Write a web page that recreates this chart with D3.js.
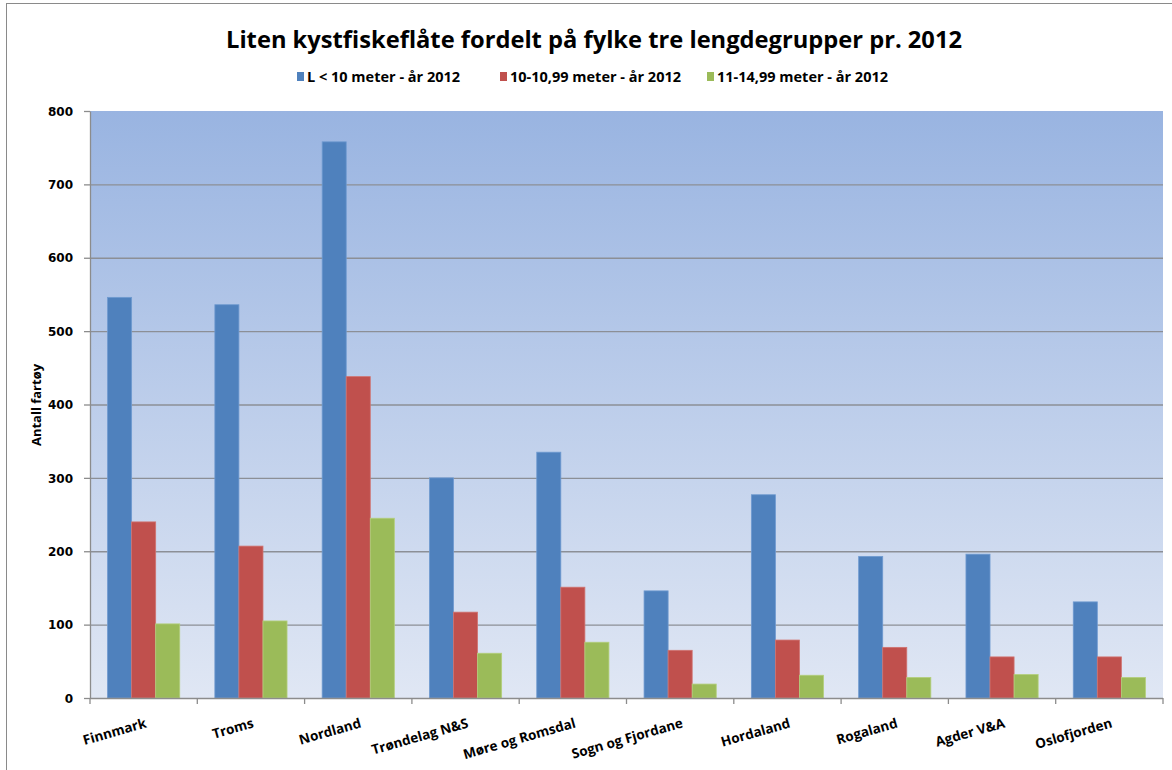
<!DOCTYPE html>
<html><head><meta charset="utf-8">
<script src="https://cdn.jsdelivr.net/npm/d3@7"></script>
<style>body{margin:0;background:#fff}svg{display:block}</style>
</head><body><svg id="c" width="1172" height="770"></svg>
<script>
const categories = ["Finnmark","Troms","Nordland","Trøndelag N&S","Møre og Romsdal","Sogn og Fjordane","Hordaland","Rogaland","Agder V&A","Oslofjorden"];
const seriesNames = ["L < 10 meter - år 2012","10-10,99 meter - år 2012","11-14,99 meter - år 2012"];
const under10 = [546,536,758,300,335,146,277,193,196,131];
const m10to11 = [240,207,438,117,151,65,79,69,56,56];
const m11to15 = [101,105,245,61,76,19,31,28,32,28];
const yTicks = [0,100,200,300,400,500,600,700,800];
const colors = ["#4f81bd","#c0504d","#9bbb59"];
const strokes = ["#6f9ad0","#d07370","#b3cf7c"];
const title = "Liten kystfiskeflåte fordelt på fylke tre lengdegrupper pr. 2012";
const yTitle = "Antall fartøy";

const svg = d3.select("#c");
const L = 90, R = 1163, T = 111, B = 698;
const font = "'Open Sans', 'Liberation Sans', sans-serif";

svg.append("rect").attr("x",6.5).attr("y",3.5).attr("width",1300).attr("height",900)
  .attr("fill","#fff").attr("stroke","#8a8a8a");

const defs = svg.append("defs");
const g1 = defs.append("linearGradient").attr("id","bg").attr("x1",0).attr("y1",0).attr("x2",0).attr("y2",1);
g1.append("stop").attr("offset","0%").attr("stop-color","#99b4e1");
g1.append("stop").attr("offset","100%").attr("stop-color","#e0e7f4");

const x0 = d3.scaleBand().domain(categories).range([L,R]).paddingInner(0).paddingOuter(0);
const x1 = d3.scaleBand().domain(d3.range(3)).range([0,x0.bandwidth()]).paddingInner(0).paddingOuter(0.73);
const y = d3.scaleLinear().domain([0,800]).range([B,T]);

svg.append("rect").attr("x",L).attr("y",T).attr("width",R-L).attr("height",B-T).attr("fill","url(#bg)");

// gridlines
svg.append("g").selectAll("line").data(yTicks.filter(d=>d>0 && d<800)).join("line")
  .attr("x1",L).attr("x2",R).attr("y1",d=>y(d)+0.5).attr("y2",d=>y(d)+0.5)
  .attr("stroke","#8c8f96").attr("stroke-width",1.3);

// bars
const allSeries = [under10,m10to11,m11to15];
const bars = svg.append("g");
allSeries.forEach((vals,si)=>{
  bars.selectAll(null).data(vals).join("rect")
    .attr("x",(d,i)=>x0(categories[i])+x1(si))
    .attr("y",d=>y(d))
    .attr("width",x1.bandwidth())
    .attr("height",d=>B-y(d))
    .attr("fill",colors[si])
    .attr("stroke",strokes[si]).attr("stroke-width",0.8);
});

// y axis
const yAxis = d3.axisLeft(y).tickValues(yTicks).tickSize(6).tickSizeOuter(0);
const ya = svg.append("g").attr("transform",`translate(${L},0)`).call(yAxis);
ya.select(".domain").attr("stroke","#8c8c8c").attr("stroke-width",1.3);
ya.selectAll(".tick line").attr("stroke","#8c8c8c").attr("stroke-width",1.3);
ya.selectAll(".tick text").attr("x",-17).attr("dy","0.35em")
  .style("font-family","'DejaVu Sans', Verdana, sans-serif").style("font-weight","bold").style("font-size","12px").attr("fill","#000");

// x axis
const xa = svg.append("g").attr("transform",`translate(0,${B})`);
xa.append("line").attr("x1",L).attr("x2",R).attr("y1",0.5).attr("y2",0.5).attr("stroke","#8c8c8c").attr("stroke-width",1.3);
xa.selectAll("line.t").data(d3.range(categories.length+1)).join("line").attr("class","t")
  .attr("x1",i=>L+i*x0.step()).attr("x2",i=>L+i*x0.step()).attr("y1",0).attr("y2",6)
  .attr("stroke","#8c8c8c").attr("stroke-width",1.3);
xa.selectAll("text").data(categories).join("text")
  .attr("transform",d=>`translate(${x0(d)+x0.bandwidth()/2+1},${20}) rotate(-16)`)
  .attr("text-anchor","end").attr("dy","0.7em")
  .style("font-family",font).style("font-weight","bold").style("font-size","13.5px").attr("fill","#000")
  .text(d=>d);

// title
svg.append("text").attr("x",594).attr("y",48).attr("text-anchor","middle")
  .style("font-family",font).style("font-weight","bold").style("font-size","23.7px").attr("fill","#000")
  .text(title);

// y title
svg.append("text").attr("transform","translate(41,405) rotate(-90)").attr("text-anchor","middle")
  .style("font-family",font).style("font-weight","bold").style("font-size","13px").attr("fill","#000")
  .text(yTitle);

// legend
const legX = [297,500,707];
const leg = svg.append("g");
seriesNames.forEach((n,i)=>{
  leg.append("rect").attr("x",legX[i]).attr("y",72).attr("width",7).attr("height",9).attr("fill",colors[i]);
  leg.append("text").attr("x",legX[i]+10).attr("y",82)
    .style("font-family",font).style("font-weight","bold").style("font-size","14.5px").attr("fill","#000").text(n);
});
</script></body></html>
